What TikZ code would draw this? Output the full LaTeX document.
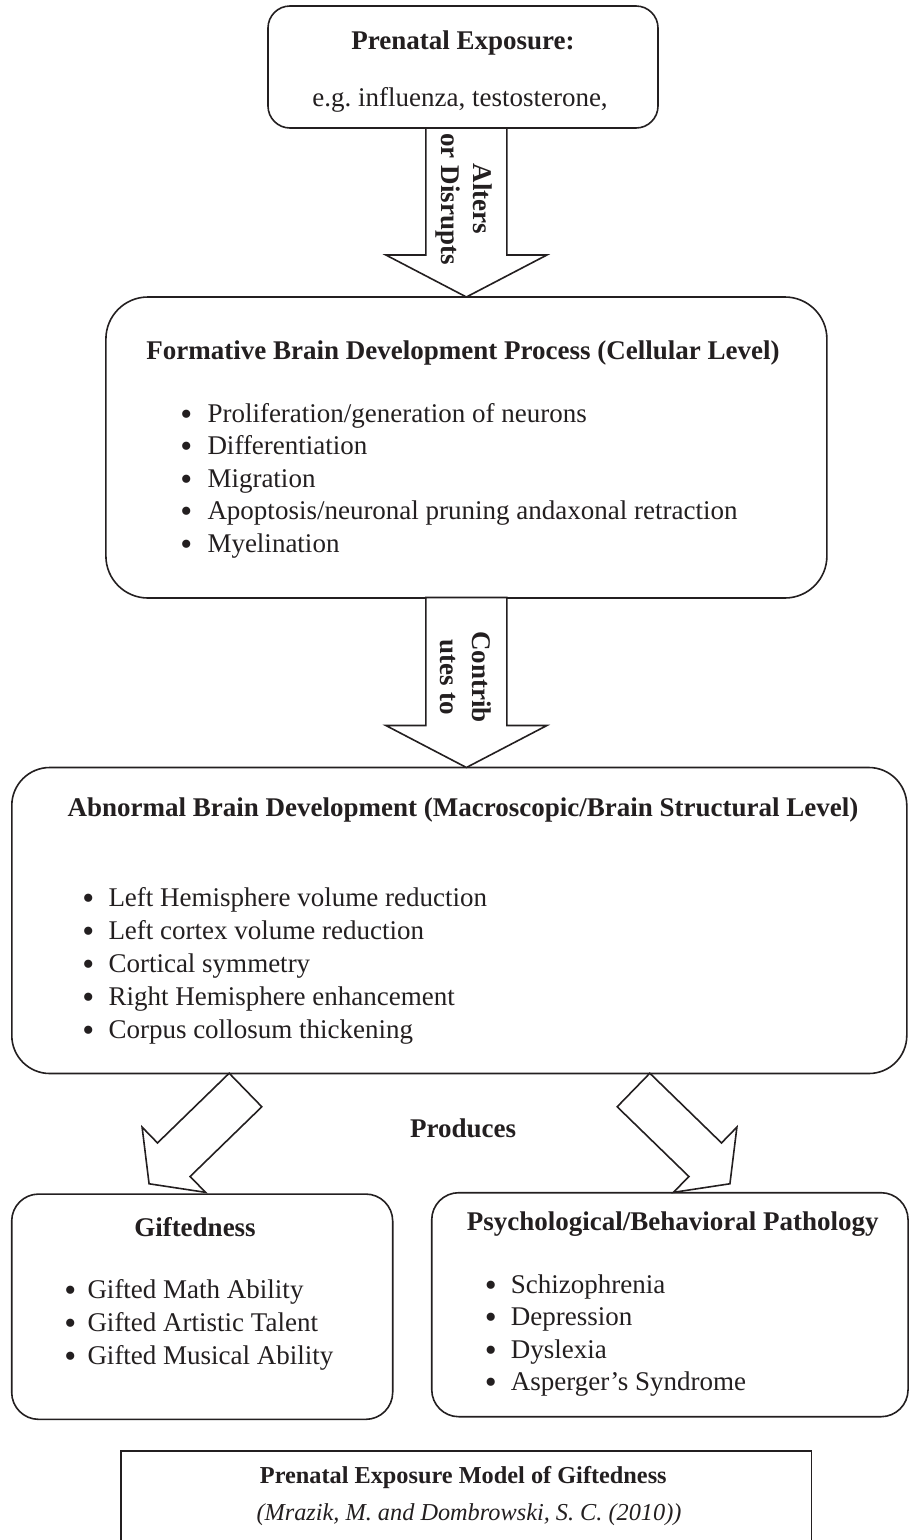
\documentclass[tikz,border=0pt]{standalone}
\usepackage{fontspec}
\setmainfont{Liberation Serif}
\usetikzlibrary{calc}
\definecolor{ink}{RGB}{35,31,32}
\frenchspacing
\tikzset{
  box/.style={draw=ink, line width=1.6pt, fill=white, inner sep=0pt, outer sep=0pt},
  btitle/.style={font=\fontsize{27}{32}\selectfont\bfseries, text=ink, anchor=base, inner sep=0pt},
  itemtxt/.style={font=\fontsize{27}{32}\selectfont, text=ink, anchor=base west, inner sep=0pt},
  bdot/.style={font=\fontsize{34}{34}\selectfont, text=ink, anchor=base, inner sep=0pt, yshift=-3pt},
  plain/.style={font=\fontsize{27}{32}\selectfont, text=ink, anchor=base, inner sep=0pt},
  vlabel/.style={font=\fontsize{27}{32}\selectfont\bfseries, text=ink, rotate=-90, align=center, inner sep=0pt},
  blockarrow/.style={draw=ink, line width=1.6pt, fill=white, line join=miter},
}
\begin{document}
\begin{tikzpicture}[x=1pt, y=-1pt]
\useasboundingbox (0,0) rectangle (909,1540);
\clip (0,0) rectangle (909,1540);
% boxes
\node[box, rounded corners=22pt, minimum width=390pt, minimum height=122pt] (b1) at (463,67) {};
\node[box, rounded corners=42pt, minimum width=721pt, minimum height=301pt] (b2) at (466.4,447.5) {};
\node[box, rounded corners=38pt, minimum width=895pt, minimum height=306pt] (b3) at (459.3,920.5) {};
\node[box, rounded corners=27pt, minimum width=381pt, minimum height=225.3pt] (b4) at (202.2,1306.7) {};
\node[box, rounded corners=27pt, minimum width=476.3pt, minimum height=224pt] (b5) at (669.9,1304.7) {};
\node[box, minimum width=690.7pt, minimum height=130pt, anchor=north] (b6) at (466.3,1451) {};

% block arrow 1
\coordinate (t1) at (b2.north);
\draw[blockarrow] (t1) -- ($(t1)+(-80.5,-42)$) -- ($(t1)+(-40.5,-42)$) -- ($(t1)+(-40.5,-169)$)
  -- ($(t1)+(40.5,-169)$) -- ($(t1)+(40.5,-42)$) -- ($(t1)+(80.5,-42)$) -- cycle;
\node[vlabel] (l1) at (464,199) {Alters\\or Disrupts};

% block arrow 2
\coordinate (t2) at (b2.south |- b3.north);
\draw[blockarrow] (t2) -- ($(t2)+(-80.5,-42)$) -- ($(t2)+(-40.5,-42)$) -- ($(t2)+(-40.5,-170)$)
  -- ($(t2)+(40.5,-170)$) -- ($(t2)+(40.5,-42)$) -- ($(t2)+(80.5,-42)$) -- cycle;
\node[vlabel] (l2) at (466,677) {Contrib\\utes to};

% produces arrows
\coordinate (s3) at (245.5,1090);
\coordinate (s4) at (633.5,1090);
\begin{scope}[shift={(s3)}, rotate=224.2]
\draw[blockarrow] (0,-23.4) -- (100,-23.4) -- (100,-45.5) -- (134.5,0) -- (100,45.5) -- (100,23.4) -- (0,23.4) -- cycle;
\end{scope}
\begin{scope}[shift={(s4)}, rotate=-44.2]
\draw[blockarrow] (0,-23.4) -- (100,-23.4) -- (100,-45.5) -- (134.5,0) -- (100,45.5) -- (100,23.4) -- (0,23.4) -- cycle;
\end{scope}
\node[btitle] (prod) at (463,1137) {Produces};

% box 1 text
\node[btitle] (b1t) at (463,49) {Prenatal Exposure:};
\node[plain] (b1s) at (460,106) {e.g. influenza, testosterone,};

% box 2 text
\node[btitle] (b2t) at (463,359) {Formative Brain Development Process (Cellular Level)};
\node[itemtxt] (f1) at (207.3,422) {Proliferation/generation of neurons};
\node[itemtxt] (f2) at (207.3,454.5) {Differentiation};
\node[itemtxt] (f3) at (207.3,487) {Migration};
\node[itemtxt] (f4) at (207.3,519.5) {Apoptosis/neuronal pruning andaxonal retraction};
\node[itemtxt] (f5) at (207.3,552) {Myelination};
\foreach \n in {f1,f2,f3,f4,f5}{\node[bdot] at ($(\n.base west)+(-21,0)$) {\textbullet};}

% box 3 text
\node[btitle] (b3t) at (463,816) {Abnormal Brain Development (Macroscopic/Brain Structural Level)};
\node[itemtxt] (a1) at (108.3,906.7) {Left Hemisphere volume reduction};
\node[itemtxt] (a2) at (108.3,939.6) {Left cortex volume reduction};
\node[itemtxt] (a3) at (108.3,972.5) {Cortical symmetry};
\node[itemtxt] (a4) at (108.3,1005.4) {Right Hemisphere enhancement};
\node[itemtxt] (a5) at (108.3,1038.3) {Corpus collosum thickening};
\foreach \n in {a1,a2,a3,a4,a5}{\node[bdot] at ($(\n.base west)+(-20,0)$) {\textbullet};}

% box 4 text
\node[btitle] (b4t) at (195,1236.7) {Giftedness};
\node[itemtxt] (g1) at (87.3,1298.3) {Gifted Math Ability};
\node[itemtxt] (g2) at (87.3,1331.2) {Gifted Artistic Talent};
\node[itemtxt] (g3) at (87.3,1364) {Gifted Musical Ability};
\foreach \n in {g1,g2,g3}{\node[bdot] at ($(\n.base west)+(-17,0)$) {\textbullet};}

% box 5 text
\node[btitle] (b5t) at (672.8,1230) {Psychological/Behavioral Pathology};
\node[itemtxt] (p1) at (510.7,1293.3) {Schizophrenia};
\node[itemtxt] (p2) at (510.7,1325.8) {Depression};
\node[itemtxt] (p3) at (510.7,1358.3) {Dyslexia};
\node[itemtxt] (p4) at (510.7,1390.7) {Asperger’s Syndrome};
\foreach \n in {p1,p2,p3,p4}{\node[bdot] at ($(\n.base west)+(-20,0)$) {\textbullet};}

% box 6 text
\node[btitle, font=\fontsize{24.3}{30}\selectfont\bfseries] (b6t) at (463.3,1483.3) {Prenatal Exposure Model of Giftedness};
\node[plain, font=\fontsize{24.3}{30}\selectfont\itshape] (b6s) at (469,1520) {(Mrazik, M. and Dombrowski, S. C. (2010))};
\end{tikzpicture}
\end{document}
